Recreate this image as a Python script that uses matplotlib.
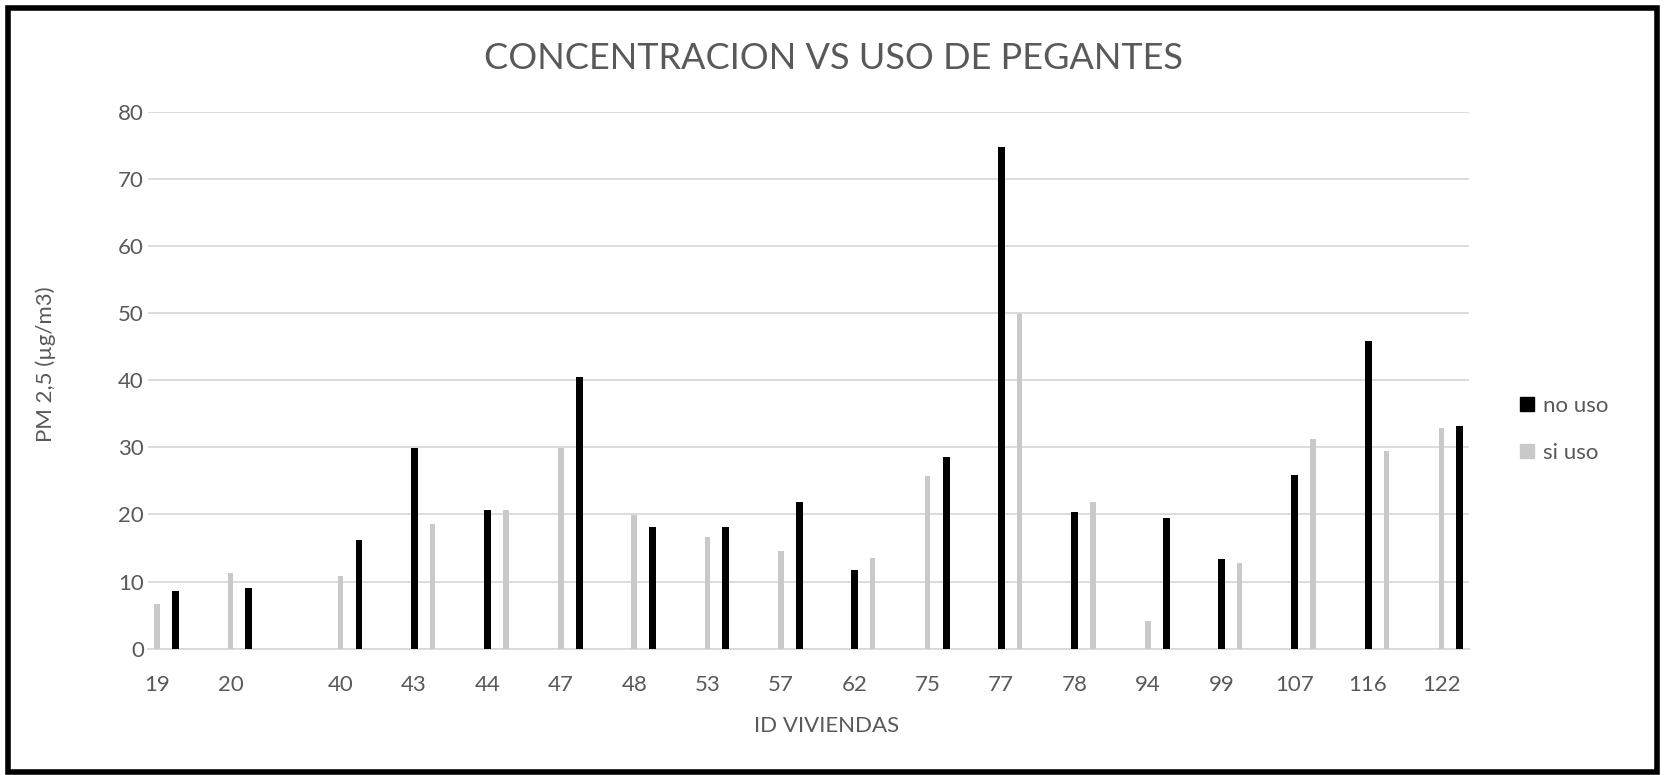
import matplotlib.pyplot as plt
from matplotlib.patches import Rectangle, Patch

# house ids and PM2.5 readings
ids = ['19', '20', '40', '43', '44', '47', '48', '53', '57', '62',
       '75', '77', '78', '94', '99', '107', '116', '122']
no_uso = [8.6, 9.0, 16.2, 29.9, 20.7, 40.4, 18.1, 18.1, 21.8, 11.7,
          28.6, 74.7, 20.3, 19.5, 13.3, 25.9, 45.9, 33.1]
si_uso = [6.7, 11.2, 10.8, 18.5, 20.7, 29.9, 19.9, 16.6, 14.5, 13.5,
          25.7, 49.9, 21.9, 4.1, 12.7, 31.2, 29.5, 32.9]
# which series sits in the first row of each house block
first = ['si', 'si', 'si', 'no', 'no', 'si', 'si', 'si', 'si', 'no',
         'si', 'no', 'no', 'si', 'no', 'no', 'no', 'si']
# number of spreadsheet rows (categories) each house takes up
rows = [4, 6, 4, 4, 4, 4, 4, 4, 4, 4, 4, 4, 4, 4, 4, 4, 4, 2]

GREY_TXT = '#595959'
plt.rcParams['font.family'] = ['Lato', 'DejaVu Sans']

fig = plt.figure(figsize=(16.67, 7.75), dpi=100)
ax = fig.add_axes([0.0888, 0.163, 0.7924, 0.6929])

x_no, x_si, tick_pos = [], [], []
pos = 0
for i in range(len(ids)):
    tick_pos.append(pos)
    if first[i] == 'no':
        x_no.append(pos)
        x_si.append(pos + 1)
    else:
        x_si.append(pos)
        x_no.append(pos + 1)
    pos += rows[i]

ax.bar(x_no, no_uso, width=0.38, color='black', zorder=3)
ax.bar(x_si, si_uso, width=0.3, color='#c9c9c9', zorder=3)

ax.set_xlim(-0.5, pos - 0.5)
ax.set_ylim(0, 80)
ax.set_yticks(range(0, 81, 10))
ax.set_xticks(tick_pos)
ax.set_xticklabels(ids)
ax.yaxis.grid(True, color='#d9d9d9', linewidth=1.3, zorder=0)
for s in ['top', 'right', 'left']:
    ax.spines[s].set_visible(False)
ax.spines['bottom'].set_color('#d9d9d9')
ax.spines['bottom'].set_linewidth(1.3)
ax.tick_params(axis='both', length=0, labelsize=16, labelcolor=GREY_TXT)
ax.tick_params(axis='x', pad=19)
ax.tick_params(axis='y', pad=3)

ax.set_ylabel('PM 2,5 (µg/m3)', fontsize=16, color=GREY_TXT)
ax.yaxis.set_label_coords(-0.07, 0.53)
ax.set_xlabel('ID VIVIENDAS', fontsize=16, color=GREY_TXT)
ax.xaxis.set_label_coords(0.514, -0.125)
fig.text(0.5, 0.925, 'CONCENTRACION VS USO DE PEGANTES', ha='center', va='center',
         fontsize=26, color=GREY_TXT)

handles = [Patch(color='black'), Patch(color='#c9c9c9')]
fig.legend(handles, ['no uso', 'si uso'], loc='center left', bbox_to_anchor=(0.9, 0.446),
           frameon=False, fontsize=16, labelcolor=GREY_TXT, handlelength=0.6,
           handleheight=0.6, handletextpad=0.4, labelspacing=1.2)

# black frame around the whole picture
fig.patches.append(Rectangle((0.0048, 0.004), 0.989, 0.986, transform=fig.transFigure,
                             fill=False, edgecolor='black', linewidth=4))

fig.savefig('out.png', dpi=100)
